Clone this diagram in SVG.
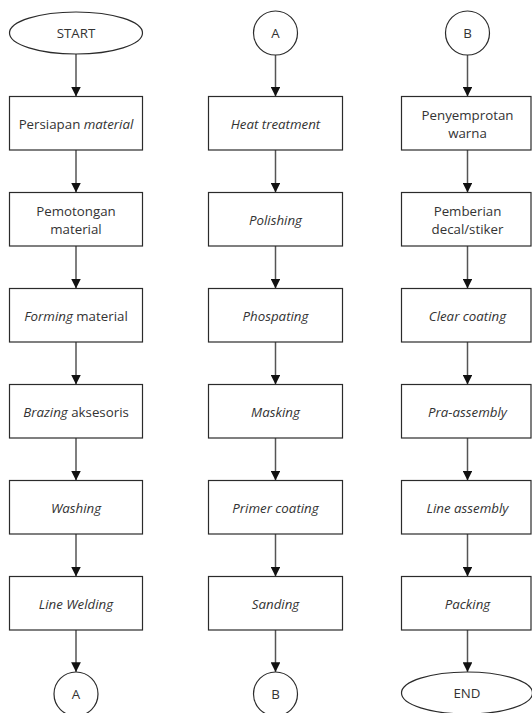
<svg xmlns="http://www.w3.org/2000/svg" width="532" height="713" viewBox="0 0 532 713">
  <style>
    .box { fill: #ffffff; stroke: #2b2b2b; stroke-width: 1.2; }
    .term { fill: #ffffff; stroke: #2b2b2b; stroke-width: 1.2; }
    .lbl { font-family: "Open Sans", "Noto Sans", sans-serif; font-size: 13.3px; fill: #333333; text-anchor: middle; }
    .it { font-style: italic; }
    .flow line { stroke: #555555; stroke-width: 1.5; marker-end: url(#arrow); }
  </style>
  <defs>
    <marker id="arrow" viewBox="0 0 10 10" refX="10" refY="5" markerWidth="6.5" markerHeight="6.5" orient="auto" markerUnits="strokeWidth">
      <path d="M0,0 L10,5 L0,10 z" fill="#111111"/>
    </marker>
  </defs>
  <rect width="532" height="713" fill="#ffffff"/>

  <!-- connectors -->
  <g id="connectors" class="flow">
    <line x1="76" y1="54" x2="76" y2="96.5"/>
    <line x1="76" y1="150" x2="76" y2="192.5"/>
    <line x1="76" y1="246" x2="76" y2="288.5"/>
    <line x1="76" y1="342" x2="76" y2="384.5"/>
    <line x1="76" y1="438" x2="76" y2="480.5"/>
    <line x1="76" y1="534" x2="76" y2="576.5"/>
    <line x1="76" y1="630" x2="76" y2="672"/>

    <line x1="275.5" y1="55" x2="275.5" y2="96.5"/>
    <line x1="275.5" y1="150" x2="275.5" y2="192.5"/>
    <line x1="275.5" y1="246" x2="275.5" y2="288.5"/>
    <line x1="275.5" y1="342" x2="275.5" y2="384.5"/>
    <line x1="275.5" y1="438" x2="275.5" y2="480.5"/>
    <line x1="275.5" y1="534" x2="275.5" y2="576.5"/>
    <line x1="275.5" y1="630" x2="275.5" y2="672"/>

    <line x1="467.5" y1="55" x2="467.5" y2="96.5"/>
    <line x1="467.5" y1="150" x2="467.5" y2="192.5"/>
    <line x1="467.5" y1="246" x2="467.5" y2="288.5"/>
    <line x1="467.5" y1="342" x2="467.5" y2="384.5"/>
    <line x1="467.5" y1="438" x2="467.5" y2="480.5"/>
    <line x1="467.5" y1="534" x2="467.5" y2="576.5"/>
    <line x1="467.5" y1="630" x2="467.5" y2="672"/>
  </g>

  <!-- column 1 -->
  <g id="start">
    <ellipse class="term" cx="76" cy="33" rx="66.5" ry="21"/>
    <text class="lbl" x="76" y="37.5">START</text>
  </g>
  <g id="persiapan">
    <rect class="box" x="9.5" y="96.5" width="133" height="53.5"/>
    <text class="lbl" x="76" y="128.5">Persiapan <tspan class="it">material</tspan></text>
  </g>
  <g id="pemotongan">
    <rect class="box" x="9.5" y="192.5" width="133" height="53.5"/>
    <text class="lbl" x="76" y="215.5">Pemotongan</text>
    <text class="lbl" x="76" y="234">material</text>
  </g>
  <g id="forming">
    <rect class="box" x="9.5" y="288.5" width="133" height="53.5"/>
    <text class="lbl" x="76" y="320.5"><tspan class="it">Forming</tspan> material</text>
  </g>
  <g id="brazing">
    <rect class="box" x="9.5" y="384.5" width="133" height="53.5"/>
    <text class="lbl" x="76" y="416.5"><tspan class="it">Brazing</tspan> aksesoris</text>
  </g>
  <g id="washing">
    <rect class="box" x="9.5" y="480.5" width="133" height="53.5"/>
    <text class="lbl it" x="76" y="512.5">Washing</text>
  </g>
  <g id="line-welding">
    <rect class="box" x="9.5" y="576.5" width="133" height="53.5"/>
    <text class="lbl it" x="76" y="608.5">Line Welding</text>
  </g>
  <g id="conn-a-out">
    <circle class="term" cx="76" cy="694" r="22"/>
    <text class="lbl" x="76" y="698.5">A</text>
  </g>

  <!-- column 2 -->
  <g id="conn-a-in">
    <circle class="term" cx="275.5" cy="33" r="22"/>
    <text class="lbl" x="275.5" y="37.5">A</text>
  </g>
  <g id="heat-treatment">
    <rect class="box" x="208.5" y="96.5" width="134" height="53.5"/>
    <text class="lbl it" x="275.5" y="128.5">Heat treatment</text>
  </g>
  <g id="polishing">
    <rect class="box" x="208.5" y="192.5" width="134" height="53.5"/>
    <text class="lbl it" x="275.5" y="224.5">Polishing</text>
  </g>
  <g id="phospating">
    <rect class="box" x="208.5" y="288.5" width="134" height="53.5"/>
    <text class="lbl it" x="275.5" y="320.5">Phospating</text>
  </g>
  <g id="masking">
    <rect class="box" x="208.5" y="384.5" width="134" height="53.5"/>
    <text class="lbl it" x="275.5" y="416.5">Masking</text>
  </g>
  <g id="primer-coating">
    <rect class="box" x="208.5" y="480.5" width="134" height="53.5"/>
    <text class="lbl it" x="275.5" y="512.5">Primer coating</text>
  </g>
  <g id="sanding">
    <rect class="box" x="208.5" y="576.5" width="134" height="53.5"/>
    <text class="lbl it" x="275.5" y="608.5">Sanding</text>
  </g>
  <g id="conn-b-out">
    <circle class="term" cx="275.5" cy="694" r="22"/>
    <text class="lbl" x="275.5" y="698.5">B</text>
  </g>

  <!-- column 3 -->
  <g id="conn-b-in">
    <circle class="term" cx="467.5" cy="33" r="22"/>
    <text class="lbl" x="467.5" y="37.5">B</text>
  </g>
  <g id="penyemprotan">
    <rect class="box" x="401.5" y="96.5" width="129.5" height="53.5"/>
    <text class="lbl" x="467.5" y="119.5">Penyemprotan</text>
    <text class="lbl" x="467.5" y="138">warna</text>
  </g>
  <g id="pemberian">
    <rect class="box" x="401.5" y="192.5" width="129.5" height="53.5"/>
    <text class="lbl" x="467.5" y="215.5">Pemberian</text>
    <text class="lbl" x="467.5" y="234">decal/stiker</text>
  </g>
  <g id="clear-coating">
    <rect class="box" x="401.5" y="288.5" width="129.5" height="53.5"/>
    <text class="lbl it" x="467.5" y="320.5">Clear coating</text>
  </g>
  <g id="pra-assembly">
    <rect class="box" x="401.5" y="384.5" width="129.5" height="53.5"/>
    <text class="lbl it" x="467.5" y="416.5">Pra-assembly</text>
  </g>
  <g id="line-assembly">
    <rect class="box" x="401.5" y="480.5" width="129.5" height="53.5"/>
    <text class="lbl it" x="467.5" y="512.5">Line assembly</text>
  </g>
  <g id="packing">
    <rect class="box" x="401.5" y="576.5" width="129.5" height="53.5"/>
    <text class="lbl it" x="467.5" y="608.5">Packing</text>
  </g>
  <g id="end">
    <ellipse class="term" cx="467" cy="693" rx="65.5" ry="21"/>
    <text class="lbl" x="467" y="697.5">END</text>
  </g>
</svg>
